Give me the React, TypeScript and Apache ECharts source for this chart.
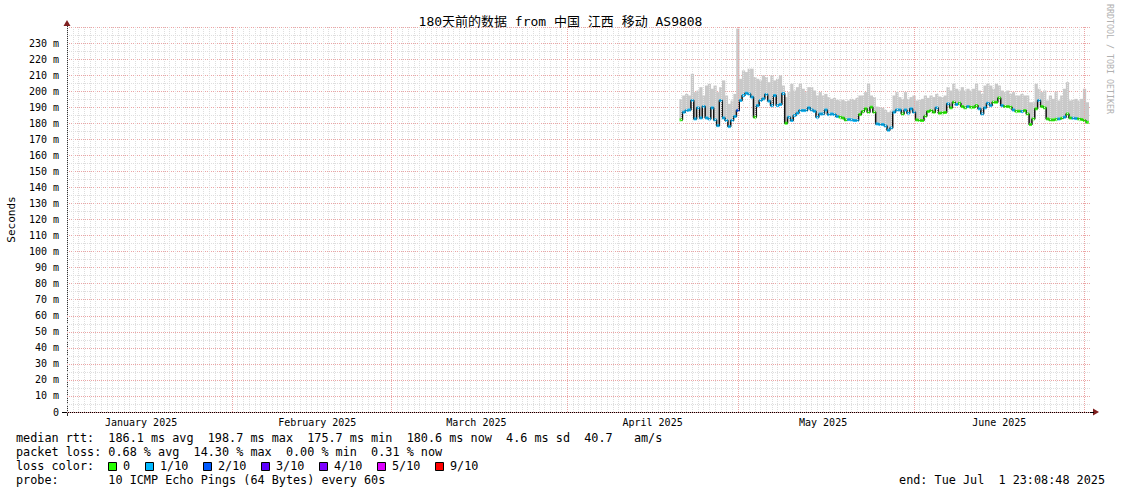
import React, { useEffect, useRef } from 'react';
import * as echarts from 'echarts';

const titleText = '180天前的数据 from 中国 江西 移动 AS9808';
const yAxisName = 'Seconds';
const watermark = 'RRDTOOL / TOBI OETIKER';

// x axis in days since 2025-01-01 00:00
const xMinDay = 1.9645; // Jan 2 23:08:48
const xMaxDay = 181.9645; // Jul 1 23:08:48
const startDay = 110; // Apr 21 00:00, first sample
const stepDays = 0.5;

const monthLabelDays = [15, 46, 74, 105, 135, 166];
const monthLabels = ['January 2025', 'February 2025', 'March 2025', 'April 2025', 'May 2025', 'June 2025'];
const monthStartDays = [31, 59, 90, 120, 151, 181];

const medianMs = [
  182.1, 186.9, 188.0, 188.3, 194.2, 182.7, 189.6, 183.3, 190.4, 183.3,
  182.7, 189.6, 182.1, 178.5, 194.2, 183.3, 181.7, 177.9, 181.7, 184.2,
  188.0, 194.2, 197.3, 198.7, 198.2, 196.3, 183.8, 191.0, 194.2, 195.2,
  197.9, 193.8, 191.0, 197.3, 191.0, 191.7, 198.5, 180.0, 183.8, 181.7,
  184.8, 186.3, 187.9, 187.9, 187.9, 189.6, 188.3, 187.5, 183.8, 185.8,
  185.8, 188.3, 185.4, 185.8, 185.4, 184.2, 183.8, 183.3, 182.1, 182.3,
  182.1, 181.7, 181.7, 185.4, 187.3, 189.0, 186.9, 190.0, 186.9, 179.6,
  179.2, 179.2, 178.3, 175.7, 177.1, 186.9, 188.3, 188.3, 185.8, 188.3,
  186.3, 189.0, 186.9, 182.1, 181.7, 181.7, 184.4, 187.3, 187.9, 186.9,
  189.6, 186.3, 186.5, 186.7, 192.1, 189.6, 193.1, 191.7, 192.5, 190.4,
  189.6, 190.4, 190.0, 190.0, 191.0, 189.0, 185.8, 189.6, 192.5, 191.0,
  193.1, 193.1, 195.8, 191.0, 190.4, 190.4, 190.0, 188.3, 187.5, 187.5,
  187.3, 187.9, 185.8, 179.2, 182.7, 189.0, 194.2, 190.4, 189.6, 182.7,
  182.1, 182.1, 182.5, 182.7, 183.1, 183.8, 185.8, 183.3, 183.1, 182.9,
  182.7, 182.3, 181.7, 180.6,
];

const maxMs = [
  195.0, 197.3, 198.3, 197.3, 210.8, 199.4, 200.4, 202.5, 197.3, 203.5,
  204.6, 201.5, 203.5, 199.4, 202.5, 206.7, 197.3, 192.1, 194.2, 198.3,
  239.0, 207.7, 212.9, 211.9, 214.0, 214.0, 208.8, 207.7, 206.7, 209.8,
  208.8, 205.6, 209.8, 206.7, 207.7, 209.8, 203.5, 196.3, 199.4, 204.6,
  200.4, 202.5, 204.6, 201.5, 199.4, 202.5, 202.5, 200.4, 197.3, 199.4,
  197.3, 198.3, 196.3, 195.2, 195.8, 194.6, 194.2, 194.6, 193.8, 194.2,
  195.2, 194.6, 195.8, 197.3, 197.3, 199.4, 204.6, 197.3, 196.3, 190.4,
  190.0, 189.6, 188.3, 186.9, 187.9, 197.3, 199.4, 196.3, 195.2, 199.4,
  195.2, 196.3, 197.3, 194.2, 194.6, 195.2, 197.3, 195.8, 197.3, 196.3,
  198.3, 196.7, 196.3, 197.3, 202.5, 200.4, 204.6, 201.5, 200.4, 202.5,
  200.4, 201.5, 200.4, 201.5, 204.6, 200.4, 198.3, 203.5, 204.6, 203.5,
  201.5, 204.6, 203.5, 200.4, 199.4, 200.4, 198.3, 199.4, 197.3, 197.3,
  198.3, 197.3, 197.3, 193.1, 193.1, 204.6, 201.5, 199.4, 200.4, 194.2,
  197.3, 195.2, 199.4, 194.2, 197.3, 201.5, 205.6, 194.2, 194.6, 195.2,
  194.2, 195.2, 201.5, 193.1,
];

// index into lossColors (0 = no loss, 1 = 1/10, 2 = 2/10 ...)
const lossLevel = [
  0, 1, 1, 1, 1, 1, 1, 1, 1, 1,
  1, 1, 1, 1, 1, 1, 1, 1, 1, 1,
  2, 1, 1, 1, 1, 1, 0, 1, 1, 1,
  1, 1, 1, 1, 1, 1, 1, 0, 1, 1,
  1, 1, 1, 1, 1, 1, 1, 1, 1, 1,
  1, 1, 1, 1, 1, 1, 0, 0, 0, 1,
  1, 1, 1, 0, 0, 0, 0, 0, 0, 1,
  1, 1, 1, 1, 1, 1, 1, 1, 0, 1,
  1, 1, 1, 0, 0, 0, 0, 0, 0, 0,
  1, 0, 0, 0, 1, 0, 0, 1, 0, 0,
  0, 1, 0, 0, 0, 1, 1, 1, 1, 1,
  0, 0, 0, 1, 0, 0, 0, 1, 0, 0,
  1, 0, 0, 0, 0, 0, 1, 0, 0, 0,
  0, 0, 0, 1, 0, 1, 0, 0, 1, 1,
  0, 0, 0, 0,
];

const lossLabels = ['0', '1/10', '2/10', '3/10', '4/10', '5/10', '9/10'];
const lossColors = ['#26ff00', '#00b8ff', '#0059ff', '#5e00ff', '#7e00ff', '#dd00ff', '#ff0000'];

const legendLine1 = 'median rtt:  186.1 ms avg  198.7 ms max  175.7 ms min  180.6 ms now  4.6 ms sd  40.7   am/s';
const legendLine2 = 'packet loss: 0.68 % avg  14.30 % max  0.00 % min  0.31 % now';
const legendLine3 = 'loss color:';
const legendLine4 = 'probe:       10 ICMP Echo Pings (64 Bytes) every 60s';
const endText = 'end: Tue Jul  1 23:08:48 2025';

const MONO = "'DejaVu Sans Mono', 'Noto Sans CJK SC', monospace";

export default function App() {
  const ref = useRef<HTMLDivElement>(null);

  useEffect(() => {
    if (!ref.current) return;
    const chart = echarts.init(ref.current, null, { renderer: 'svg' });

    const xs = medianMs.map((_, i) => startDay + i * stepDays);
    const baseData = medianMs.map((v, i) => [xs[i], v]);
    const smokeData = maxMs.map((v, i) => [xs[i], medianMs[i], v]);
    const lossData = medianMs.map((v, i) => ({
      value: [xs[i], v],
      itemStyle: { color: lossColors[lossLevel[i]] },
    }));

    const gridLines: any[] = [];
    for (let d = 2; d <= 181; d++) {
      if (monthStartDays.indexOf(d) >= 0) continue;
      gridLines.push({ xAxis: d, lineStyle: { color: '#dedede', type: [1, 1], width: 1 } });
    }
    monthStartDays.forEach((d) => {
      gridLines.push({ xAxis: d, lineStyle: { color: '#eba5a5', type: [1, 1], width: 1 } });
    });

    const txt = (text: string, x: number, y: number, extra: any = {}) => ({
      type: 'text',
      x,
      y,
      silent: true,
      style: {
        text,
        fill: '#000',
        fontFamily: MONO,
        fontSize: 11.8,
        verticalAlign: 'middle',
        align: 'left',
        ...extra,
      },
    });

    const graphics: any[] = [
      txt(titleText, 560.5, 21, { align: 'center', fontSize: 13 }),
      {
        type: 'text',
        x: 11,
        y: 219.5,
        rotation: Math.PI / 2,
        silent: true,
        style: { text: yAxisName, fill: '#000', fontFamily: MONO, fontSize: 11, align: 'center', verticalAlign: 'middle' },
      },
      {
        type: 'text',
        x: 1110,
        y: 4,
        rotation: -Math.PI / 2,
        silent: true,
        style: { text: watermark, fill: '#b0b0b0', fontFamily: MONO, fontSize: 8.3, align: 'left', verticalAlign: 'middle' },
      },
      txt(legendLine1, 16, 438),
      txt(legendLine2, 16, 452),
      txt(legendLine3, 16, 466),
      txt(legendLine4, 16, 480),
      txt(endText, 1105, 480, { align: 'right' }),
      {
        type: 'polygon',
        silent: true,
        shape: { points: [[67, 20], [63.5, 26], [70.5, 26]] },
        style: { fill: '#7f1f1f' },
      },
      {
        type: 'polygon',
        silent: true,
        shape: { points: [[1099, 412], [1093, 408.5], [1093, 415.5]] },
        style: { fill: '#7f1f1f' },
      },
      {
        type: 'line',
        silent: true,
        shape: { x1: 62, y1: 412.5, x2: 1094, y2: 412.5 },
        style: { stroke: '#000', lineWidth: 1 },
      },
      {
        type: 'line',
        silent: true,
        shape: { x1: 67.5, y1: 26, x2: 67.5, y2: 416 },
        style: { stroke: '#333', lineWidth: 1 },
      },
    ];

    const boxX = [108, 145, 203, 261, 319, 377, 435];
    lossLabels.forEach((lab, i) => {
      graphics.push({
        type: 'rect',
        silent: true,
        shape: { x: boxX[i] + 0.5, y: 462.5, width: 8, height: 8 },
        style: { fill: lossColors[i], stroke: '#000', lineWidth: 1 },
      });
      graphics.push(txt(lab, boxX[i] + 15, 466));
    });

    chart.setOption({
      animation: false,
      backgroundColor: '#ffffff',
      grid: { left: 67, right: 31, top: 27, bottom: 82, containLabel: false },
      xAxis: {
        type: 'value',
        min: xMinDay,
        max: xMaxDay,
        axisLine: { show: false },
        axisTick: { show: false },
        splitLine: { show: false },
        axisLabel: {
          customValues: monthLabelDays,
          formatter: (v: number) => {
            const k = monthLabelDays.indexOf(Math.round(v));
            return k >= 0 ? monthLabels[k] : '';
          },
          fontFamily: MONO,
          fontSize: 10,
          color: '#000',
          margin: 5,
        },
      },
      yAxis: {
        type: 'value',
        min: 0,
        max: 240,
        interval: 10,
        axisLine: { show: false },
        axisTick: { show: false },
        axisLabel: {
          formatter: (v: number) => (v === 0 ? '0' : v >= 240 ? '' : v + ' m'),
          fontFamily: MONO,
          fontSize: 10,
          color: '#000',
          margin: 8,
        },
        splitLine: { show: true, lineStyle: { color: '#eba5a5', type: [1, 1], width: 1 } },
        minorTick: { show: false, splitNumber: 2 },
        minorSplitLine: { show: true, lineStyle: { color: '#dedede', type: [1, 1], width: 1 } },
      },
      graphic: graphics,
      series: [
        {
          name: 'grid',
          type: 'line',
          data: baseData,
          showSymbol: false,
          silent: true,
          lineStyle: { width: 0, opacity: 0 },
          z: 0,
          markLine: {
            silent: true,
            symbol: ['none', 'none'],
            label: { show: false },
            emphasis: { disabled: true },
            data: gridLines,
          },
        },
        {
          name: 'smoke',
          type: 'custom',
          data: smokeData,
          encode: { x: 0, y: [1, 2] },
          silent: true,
          z: 2,
          renderItem: (params: any, api: any) => {
            const x = api.value(0);
            const lo = api.value(1);
            const hi = api.value(2);
            const p1 = api.coord([x - stepDays / 2, hi]);
            const p2 = api.coord([x + stepDays / 2, lo]);
            return {
              type: 'rect',
              shape: { x: p1[0] - 0.2, y: p1[1], width: p2[0] - p1[0] + 0.4, height: p2[1] - p1[1] },
              style: { fill: '#c9c9c9' },
            };
          },
        },
        {
          name: 'median',
          type: 'line',
          data: baseData,
          step: 'middle',
          showSymbol: false,
          silent: true,
          lineStyle: { color: '#111', width: 1.5 },
          z: 3,
        },
        {
          name: 'loss',
          type: 'scatter',
          symbol: 'rect',
          symbolSize: [3, 3],
          data: lossData,
          silent: true,
          z: 4,
        },
      ],
    });

    return () => chart.dispose();
  }, []);

  return (
    <div
      ref={ref}
      style={{ position: 'fixed', left: 0, top: 0, width: 1121, height: 494, background: '#fff' }}
    />
  );
}
